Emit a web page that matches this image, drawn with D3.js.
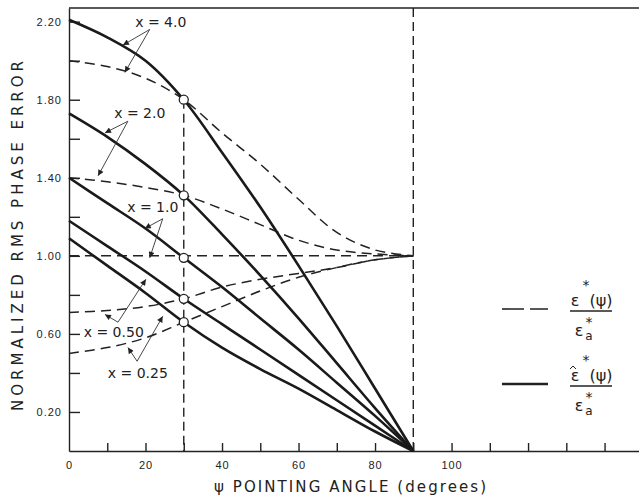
<!DOCTYPE html>
<html>
<head>
<meta charset="utf-8">
<script src="https://cdn.jsdelivr.net/npm/d3@7"></script>
<style>
  body { margin: 0; background: #fff; }
  svg { display: block; font-family: "DejaVu Sans", sans-serif; }
  .axis path, .axis line { stroke: #222; stroke-width: 1.4; }
  .axis text { font-size: 11px; fill: #222; letter-spacing: 1px; }
</style>
</head>
<body>
<div id="chart"></div>
<script>
// pointing angle (degrees)
const angles = [0, 10, 20, 30, 40, 50, 60, 70, 80, 90];

// solid: e-hat*(psi)/e*a   dashed: e*(psi)/e*a
const solid40 = [2.21, 2.12, 2.00, 1.80, 1.53, 1.25, 0.95, 0.64, 0.32, 0];
const dash40 = [2.00, 1.97, 1.91, 1.80, 1.63, 1.47, 1.29, 1.12, 1.03, 1.00];
const solid20 = [1.73, 1.61, 1.47, 1.31, 1.11, 0.90, 0.68, 0.45, 0.22, 0];
const dash20 = [1.40, 1.38, 1.35, 1.31, 1.24, 1.16, 1.08, 1.03, 1.01, 1.00];
const solid10 = [1.40, 1.27, 1.14, 0.99, 0.84, 0.68, 0.52, 0.35, 0.18, 0];
const dash10 = [1.00, 1.00, 1.00, 1.00, 1.00, 1.00, 1.00, 1.00, 1.00, 1.00];
const solid05 = [1.18, 1.05, 0.92, 0.78, 0.65, 0.52, 0.39, 0.26, 0.13, 0];
const dash05 = [0.71, 0.72, 0.74, 0.78, 0.84, 0.88, 0.91, 0.94, 0.98, 1.00];
const solid025 = [1.09, 0.95, 0.81, 0.66, 0.53, 0.42, 0.32, 0.21, 0.10, 0];
const dash025 = [0.50, 0.53, 0.58, 0.66, 0.74, 0.82, 0.89, 0.94, 0.98, 1.00];

// circles where the curves cross at psi = 30
const markAngle = 30;
const markValues = [1.80, 1.31, 0.99, 0.78, 0.66];

// tick labels
const yTicks = [0.2, 0.4, 0.6, 0.8, 1.0, 1.2, 1.4, 1.6, 1.8, 2.0, 2.2];
const yLabels = ["0.20", "", "0.60", "", "1.00", "", "1.40", "", "1.80", "", "2.20"];
const xTicks = [0, 10, 20, 30, 40, 50, 60, 70, 80, 90, 100, 110, 120, 130, 140];
const xLabels = ["0", "", "20", "", "40", "", "60", "", "80", "", "100", "", "", "", ""];

// curve labels with arrows (data coords: [angle, value])
const labelText = ["x = 4.0", "x = 2.0", "x = 1.0", "x = 0.50", "x = 0.25"];
const labelAt = [[24, 2.20], [18.5, 1.73], [21.9, 1.25], [11.7, 0.61], [18, 0.40]];
const arrowFrom = [[21.1, 2.16], [15.4, 1.69], [24.5, 1.19], [12.8, 0.66], [17.8, 0.46]];
const arrowToSolid = [[14.1, 2.08], [9.4, 1.63], [19.8, 1.14], [20.1, 0.88], [24.5, 0.69]];
const arrowToDash = [[14.6, 1.94], [7.6, 1.41], [21.1, 0.99], [9.4, 0.70], [15.4, 0.53]];

const width = 639, height = 500;
const x = d3.scaleLinear().domain([0, 149]).range([69, 639]);
const y = d3.scaleLinear().domain([0, 2.27]).range([451, 8]);

const svg = d3.select('#chart').append('svg')
  .attr('width', width).attr('height', height);

svg.append('defs').append('marker')
  .attr('id', 'head')
  .attr('viewBox', '0 0 10 10')
  .attr('refX', 10).attr('refY', 5)
  .attr('markerUnits', 'userSpaceOnUse')
  .attr('markerWidth', 9).attr('markerHeight', 6)
  .attr('orient', 'auto')
  .append('path').attr('d', 'M0,0 L10,5 L0,10 Z').attr('fill', '#222');

// top border
svg.append('line')
  .attr('x1', x(0)).attr('x2', width)
  .attr('y1', y.range()[1]).attr('y2', y.range()[1])
  .attr('stroke', '#222').attr('stroke-width', 1.5);

// axes
const axisY = d3.axisLeft(y)
  .tickValues(yTicks)
  .tickSizeInner(-11).tickSizeOuter(0)
  .tickPadding(7)
  .tickFormat((d, i) => yLabels[i]);

const axisX = d3.axisBottom(x)
  .tickValues(xTicks)
  .tickSizeInner(-8).tickSizeOuter(0)
  .tickPadding(10)
  .tickFormat((d, i) => xLabels[i]);

svg.append('g').attr('class', 'axis axis-y')
  .attr('transform', `translate(${x(0)},0)`)
  .call(axisY);

svg.append('g').attr('class', 'axis axis-x')
  .attr('transform', `translate(0,${y(0)})`)
  .call(axisX);

svg.selectAll('.axis-x .tick').filter(d => d === 0).select('line').remove();

// axis titles
svg.append('text')
  .attr('transform', `translate(23,${236}) rotate(-90)`)
  .attr('text-anchor', 'middle')
  .attr('textLength', 350).attr('lengthAdjust', 'spacing')
  .style('font-size', '15px').attr('fill', '#222')
  .text('NORMALIZED RMS PHASE ERROR');

svg.append('text')
  .attr('x', 350).attr('y', 492)
  .attr('text-anchor', 'middle')
  .attr('textLength', 272).attr('lengthAdjust', 'spacing')
  .style('font-size', '15px').attr('fill', '#222')
  .text('ψ POINTING ANGLE (degrees)');

// vertical reference lines
const guides = svg.append('g')
  .attr('stroke', '#222').attr('stroke-width', 1.4)
  .attr('stroke-dasharray', '9,5').attr('fill', 'none');
guides.append('line')
  .attr('x1', x(markAngle)).attr('x2', x(markAngle))
  .attr('y1', y(markValues[0])).attr('y2', y(0));
guides.append('line')
  .attr('x1', x(90)).attr('x2', x(90))
  .attr('y1', y.range()[1]).attr('y2', y(0));

// curves
const line = d3.line()
  .x((d, i) => x(angles[i]))
  .y(d => y(d))
  .curve(d3.curveCatmullRom.alpha(0.5));

const dashed = [dash40, dash20, dash10, dash05, dash025];
const solid = [solid40, solid20, solid10, solid05, solid025];

svg.append('g').selectAll('path')
  .data(dashed)
  .join('path')
  .attr('d', line)
  .attr('fill', 'none')
  .attr('stroke', '#222')
  .attr('stroke-width', 1.5)
  .attr('stroke-dasharray', '10,6');

// little end tick at 90 on the 1.00 line
svg.append('line')
  .attr('x1', x(86)).attr('x2', x(90))
  .attr('y1', y(1)).attr('y2', y(1))
  .attr('stroke', '#222').attr('stroke-width', 1.5);

svg.append('g').selectAll('path')
  .data(solid)
  .join('path')
  .attr('d', line)
  .attr('fill', 'none')
  .attr('stroke', '#1a1a1a')
  .attr('stroke-width', 2.6);

svg.append('g').selectAll('circle')
  .data(markValues)
  .join('circle')
  .attr('cx', x(markAngle))
  .attr('cy', d => y(d))
  .attr('r', 4.5)
  .attr('fill', '#fff')
  .attr('stroke', '#222')
  .attr('stroke-width', 1.3);

// curve labels + arrows
const ann = svg.append('g');
labelText.forEach((t, i) => {
  ann.append('text')
    .attr('x', x(labelAt[i][0])).attr('y', y(labelAt[i][1]))
    .attr('dy', '0.35em')
    .attr('text-anchor', 'middle')
    .style('font-size', '14px').attr('fill', '#222')
    .text(t);
  [arrowToSolid[i], arrowToDash[i]].forEach(p => {
    ann.append('line')
      .attr('x1', x(arrowFrom[i][0])).attr('y1', y(arrowFrom[i][1]))
      .attr('x2', x(p[0])).attr('y2', y(p[1]))
      .attr('stroke', '#333').attr('stroke-width', 0.9)
      .attr('marker-end', 'url(#head)');
  });
});

// legend
const leg = svg.append('g').attr('fill', '#222');
leg.append('line')
  .attr('x1', 502).attr('x2', 548).attr('y1', 309).attr('y2', 309)
  .attr('stroke', '#222').attr('stroke-width', 1.6).attr('stroke-dasharray', '22,6');
leg.append('line')
  .attr('x1', 502).attr('x2', 548).attr('y1', 384).attr('y2', 384)
  .attr('stroke', '#222').attr('stroke-width', 2.6);

function frac(top, hat) {
  const g = leg.append('g').attr('transform', `translate(0,${top})`);
  // hat over epsilon drawn as a small stroke
  if (hat) g.append('path').attr('d', 'M570,-6 L573,-9 L576,-6')
    .attr('fill', 'none').attr('stroke', '#222').attr('stroke-width', 1);
  g.append('text').attr('x', 586).attr('y', -10).attr('text-anchor', 'middle')
    .style('font-size', '14px').text('*');
  g.append('text').attr('x', 575).attr('y', 6).attr('text-anchor', 'middle')
    .style('font-size', '16px').text('ε');
  g.append('text').attr('x', 601).attr('y', 6).attr('text-anchor', 'middle')
    .style('font-size', '16px').text('(ψ)');
  g.append('line').attr('x1', 570).attr('x2', 612).attr('y1', 11).attr('y2', 11)
    .attr('stroke', '#222').attr('stroke-width', 1.6);
  g.append('text').attr('x', 589).attr('y', 27).attr('text-anchor', 'middle')
    .style('font-size', '14px').text('*');
  g.append('text').attr('x', 579).attr('y', 36).attr('text-anchor', 'middle')
    .style('font-size', '16px').text('ε');
  g.append('text').attr('x', 589).attr('y', 40).attr('text-anchor', 'middle')
    .style('font-size', '12px').text('a');
}
frac(300, false);
frac(375, true);
</script>
</body>
</html>
